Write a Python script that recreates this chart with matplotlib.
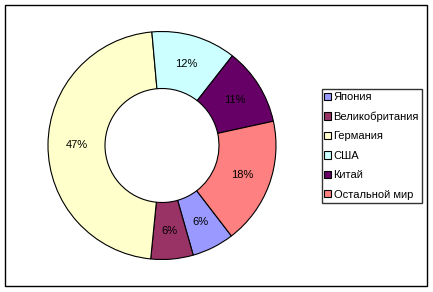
import matplotlib
matplotlib.use("Agg")
import matplotlib.pyplot as plt
from matplotlib.patches import Patch, Rectangle

categories = ["Япония", "Великобритания", "Германия", "США", "Китай", "Остальной мир"]
values = [6, 6, 47, 12, 11, 18]
labels = ["6%", "6%", "47%", "12%", "11%", "18%"]
colors = ["#9999FF", "#993366", "#FFFFCC", "#CCFFFF", "#660066", "#FF8080"]

plt.rcParams['font.family'] = ['Liberation Sans', 'DejaVu Sans']

W, H = 433, 292
fig = plt.figure(figsize=(W / 100, H / 100), dpi=100)
fig.patch.set_facecolor("white")

# outer frame
fig.add_artist(Rectangle((5 / W, 1 - 286 / H), 421.5 / W, 281 / H,
                         transform=fig.transFigure, fill=False,
                         edgecolor="black", linewidth=1.0))

cx, cy, r = 162, 145.5, 114
ax = fig.add_axes([(cx - r) / W, (H - cy - r) / H, 2 * r / W, 2 * r / H])
wedges, texts = ax.pie(values, colors=colors, startangle=-52.5, counterclock=False,
                       labels=labels, labeldistance=0.75,
                       wedgeprops=dict(width=0.5, edgecolor="black", linewidth=0.8),
                       textprops=dict(fontsize=8, color="black"))
for t in texts:
    t.set_ha("center")
    t.set_va("center")
ax.set_xlim(-1, 1)
ax.set_ylim(-1, 1)
ax.set_aspect("equal")
ax.axis("off")

handles = [Patch(facecolor=c, edgecolor="black", linewidth=0.8) for c in colors]
leg = fig.legend(handles, categories, loc="upper left",
                 bbox_to_anchor=(321.5 / W, 1 - 89.3 / H),
                 borderaxespad=0, fontsize=8, frameon=True, fancybox=False,
                 handlelength=0.62, handleheight=0.62, handletextpad=0.22,
                 labelspacing=0.85, borderpad=0.25)
leg.get_frame().set_edgecolor("black")
leg.get_frame().set_linewidth(1.0)

fig.savefig("out.png", dpi=100, facecolor="white")
